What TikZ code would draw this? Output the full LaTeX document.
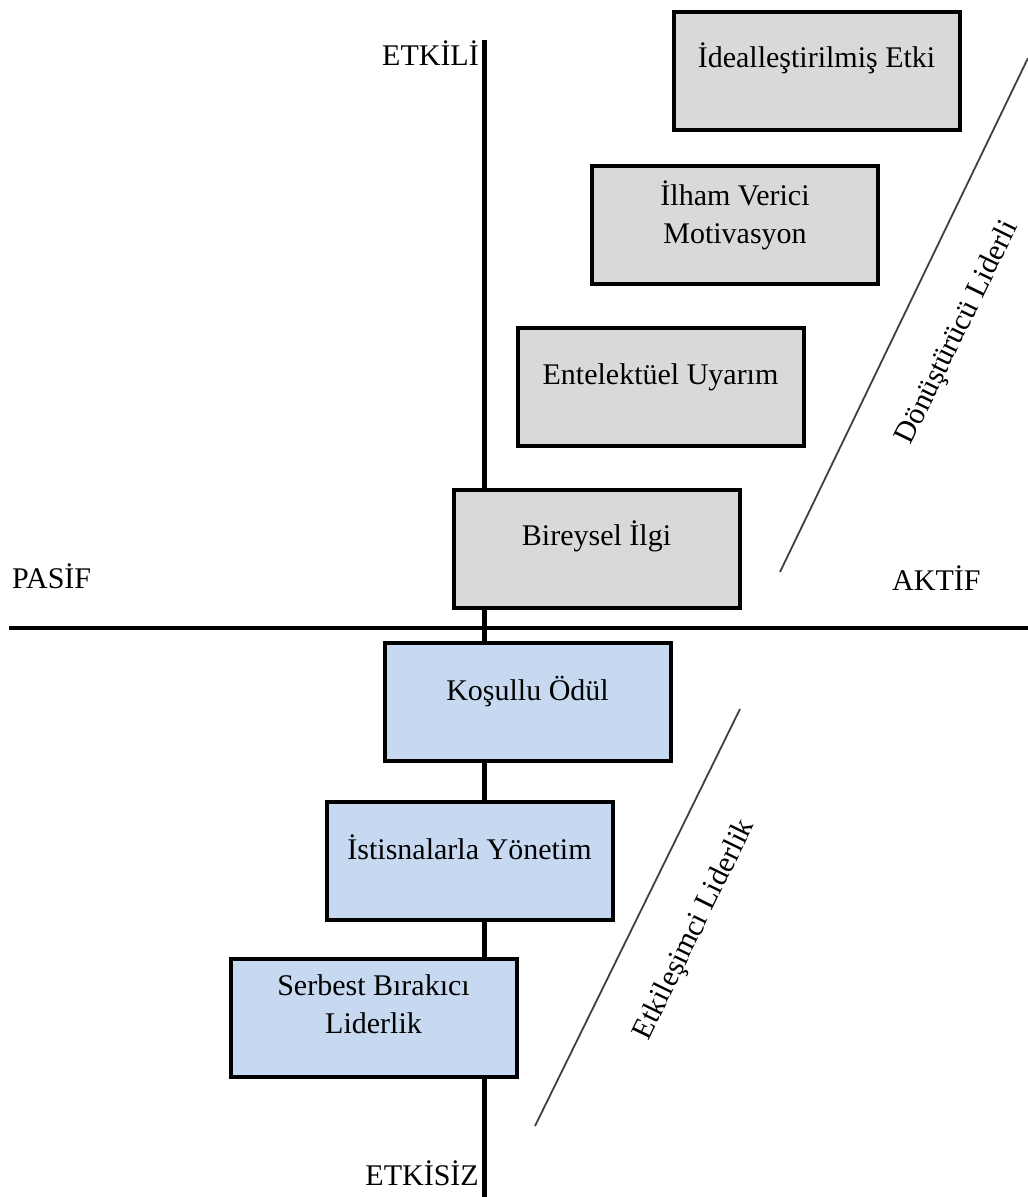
\documentclass[tikz,border=0pt]{standalone}
\usepackage{fontspec}
\setmainfont{Liberation Serif}
\usetikzlibrary{calc}
\definecolor{boxgray}{HTML}{D9D9D9}
\definecolor{boxblue}{HTML}{C6D9F1}
\begin{document}
\begin{tikzpicture}[x=1pt,y=-1pt,
  lbl/.style={font=\fontsize{30}{38}\selectfont, inner sep=0pt},
  box/.style={draw=black, line width=4pt, minimum width=286pt, minimum height=118pt, inner sep=0pt},
  gbox/.style={box, fill=boxgray},
  bbox/.style={box, fill=boxblue},
  boxtext/.style={lbl, align=center, anchor=base},
  axis/.style={draw=black, line width=5.5pt},
  haxis/.style={draw=black, line width=4pt},
  diag/.style={draw=black!75, line width=1.8pt},
  ]
\fill[white] (0,0) rectangle (1028,1197);
\useasboundingbox (0,0) rectangle (1028,1197);
% axes
\coordinate (vtop) at (484.5,40);
\coordinate (vbot) at (484.5,1197);
\coordinate (hl) at (9,628);
\coordinate (hr) at (1028,628);
\draw[axis] (vtop) -- (vbot);
\draw[haxis] (hl) -- (hr);
% axis labels
\node[lbl, anchor=base east] (etkili) at (479,65) {ETKİLİ};
\node[lbl, anchor=base east] (etkisiz) at (479,1185) {ETKİSİZ};
\node[lbl, anchor=base west] (pasif) at (12,588) {PASİF};
\node[lbl, anchor=base west] (aktif) at (892,590) {AKTİF};
% boxes
\node[gbox] (b1) at (816.5,71) {};
\node[gbox] (b2) at (735,224.5) {};
\node[gbox] (b3) at (660.5,386.5) {};
\node[gbox] (b4) at (596.5,548.5) {};
\node[bbox] (b5) at (527.5,702) {};
\node[bbox] (b6) at (469.5,861) {};
\node[bbox] (b7) at (373.5,1018) {};
% box texts
\node[boxtext] (t1) at ($(b1.north)+(0,57)$) {İdealleştirilmiş Etki};
\node[boxtext] (t2) at ($(b2.north)+(0,80)$) {İlham Verici\\Motivasyon};
\node[boxtext] (t3) at ($(b3.north)+(0,59)$) {Entelektüel Uyarım};
\node[boxtext] (t4) at ($(b4.north)+(0,58)$) {Bireysel İlgi};
\node[boxtext] (t5) at ($(b5.north)+(0,59)$) {Koşullu Ödül};
\node[boxtext] (t6) at ($(b6.north)+(0,59)$) {İstisnalarla Yönetim};
\node[boxtext] (t7) at ($(b7.north)+(0,76)$) {Serbest Bırakıcı\\Liderlik};
% diagonal separators
\coordinate (d1a) at (780,572);
\coordinate (d1b) at (1028,58);
\coordinate (d2a) at (535,1126);
\coordinate (d2b) at (740,709);
\draw[diag] (d1a) -- (d1b);
\draw[diag] (d2a) -- (d2b);
\node[lbl, rotate=64] (donus) at (958,333) {Dönüştürücü Liderli};
\node[lbl, rotate=64] (etkil) at (695,930) {Etkileşimci Liderlik};
\end{tikzpicture}
\end{document}
